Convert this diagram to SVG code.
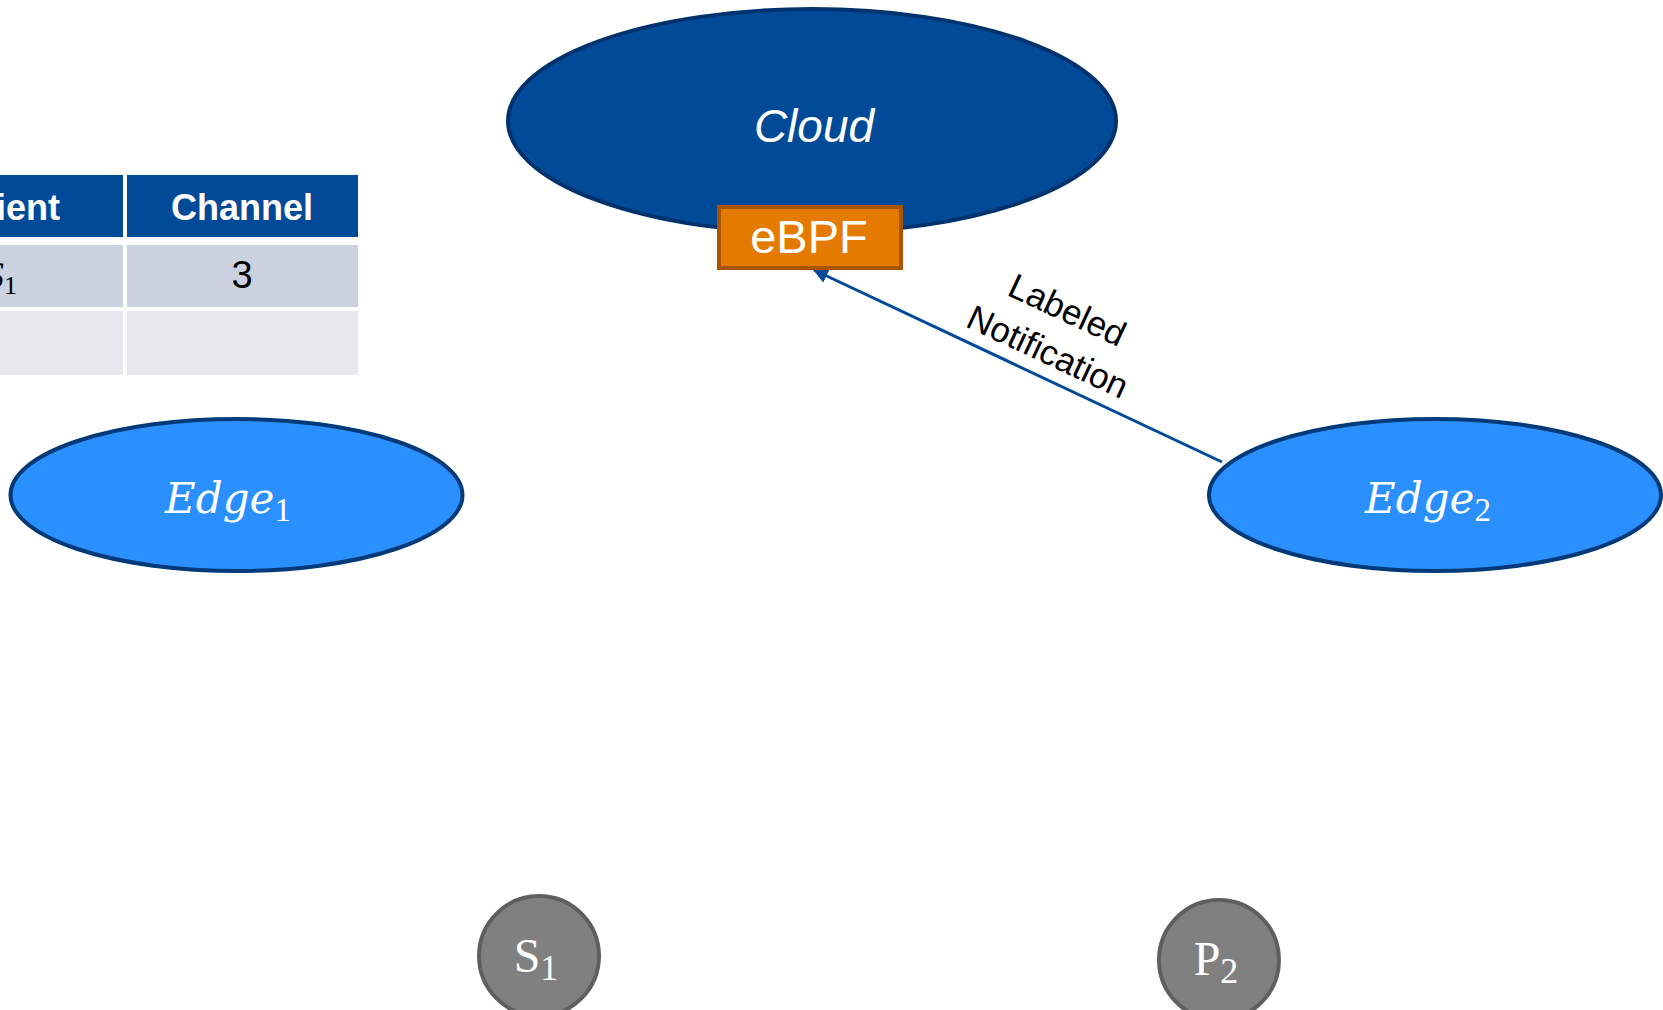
<svg xmlns="http://www.w3.org/2000/svg" width="1663" height="1010" viewBox="0 0 1663 1010">
  <style>
    .sans { font-family: "Liberation Sans", Arial, sans-serif; }
    .math { font-family: "DejaVu Serif", "Liberation Serif", serif; font-style: italic; }
    .upright { font-family: "Liberation Serif", "DejaVu Serif", serif; }
    .edge { fill: #2A8FFF; stroke: #003A78; stroke-width: 4; }
    .host { fill: #808080; stroke: #5F5F5F; stroke-width: 4; }
    .hdr { fill: #004A98; }
    .row1 { fill: #CBD1DF; }
    .row2 { fill: #E8E9EF; }
    .conn { stroke: #004A98; stroke-width: 3; fill: none; }
  </style>
  <defs>
    <marker id="arrowhead" markerWidth="5" markerHeight="5" refX="4.6" refY="2.5" orient="auto" markerUnits="strokeWidth">
      <path d="M0,0 L5,2.5 L0,5 Z" fill="#004A98"/>
    </marker>
  </defs>

  <rect width="1663" height="1010" fill="#FFFFFF"/>

  <!-- client / channel table -->
  <g id="table">
    <rect class="hdr" x="-10" y="175" width="133" height="62"/>
    <rect class="hdr" x="127" y="175" width="231" height="62"/>
    <rect class="row1" x="-10" y="245" width="133" height="62"/>
    <rect class="row1" x="127" y="245" width="231" height="62"/>
    <rect class="row2" x="-10" y="311" width="133" height="64"/>
    <rect class="row2" x="127" y="311" width="231" height="64"/>
    <text class="sans" x="60" y="220" font-size="36" font-weight="bold" fill="#FFFFFF" text-anchor="end">Client</text>
    <text class="sans" x="242" y="220" font-size="36" font-weight="bold" fill="#FFFFFF" text-anchor="middle">Channel</text>
    <text class="upright" x="17" y="288" font-size="38" fill="#000000" text-anchor="end" font-style="italic">S<tspan font-size="26" font-style="normal" dy="6">1</tspan></text>
    <text class="sans" x="242" y="288" font-size="38" fill="#000000" text-anchor="middle">3</text>
  </g>

  <!-- connectors -->
  <g id="connectors">
    <line class="conn" x1="1222" y1="462" x2="814" y2="270" marker-end="url(#arrowhead)"/>
    <g transform="translate(1058,330) rotate(25)">
      <text class="sans" x="0" y="-10" font-size="35" fill="#000000" text-anchor="middle">Labeled</text>
      <text class="sans" x="0" y="36" font-size="35" fill="#000000" text-anchor="middle">Notification</text>
    </g>
  </g>

  <!-- cloud with its eBPF hook -->
  <g id="cloud">
    <ellipse cx="812" cy="121" rx="304" ry="112" fill="#004A98" stroke="#00336E" stroke-width="4"/>
    <text class="sans" x="814" y="142" font-size="46" font-style="italic" fill="#FFFFFF" text-anchor="middle">Cloud</text>
  </g>
  <g id="ebpf">
    <rect x="719" y="207" width="182" height="61" fill="#E57A00" stroke="#A85400" stroke-width="4"/>
    <text class="sans" x="809" y="253" font-size="47" fill="#FFFFFF" text-anchor="middle">eBPF</text>
  </g>

  <!-- edge nodes -->
  <g id="edge1">
    <ellipse class="edge" cx="236.5" cy="495" rx="226" ry="76"/>
    <text class="math" x="228" y="513" font-size="42" fill="#FFFFFF" text-anchor="middle">Edge<tspan class="upright" font-style="normal" font-size="33" dy="8">1</tspan></text>
  </g>
  <g id="edge2">
    <ellipse class="edge" cx="1435" cy="495" rx="226" ry="76"/>
    <text class="math" x="1428" y="513" font-size="42" fill="#FFFFFF" text-anchor="middle">Edge<tspan class="upright" font-style="normal" font-size="33" dy="8">2</tspan></text>
  </g>

  <!-- hosts -->
  <g id="s1">
    <circle class="host" cx="539" cy="956" r="60"/>
    <text class="upright" x="536" y="972" font-size="48" fill="#FFFFFF" text-anchor="middle">S<tspan font-size="36" dy="8">1</tspan></text>
  </g>
  <g id="p2">
    <circle class="host" cx="1219" cy="960" r="60"/>
    <text class="upright" x="1216" y="975" font-size="48" fill="#FFFFFF" text-anchor="middle">P<tspan font-size="36" dy="8">2</tspan></text>
  </g>
</svg>
